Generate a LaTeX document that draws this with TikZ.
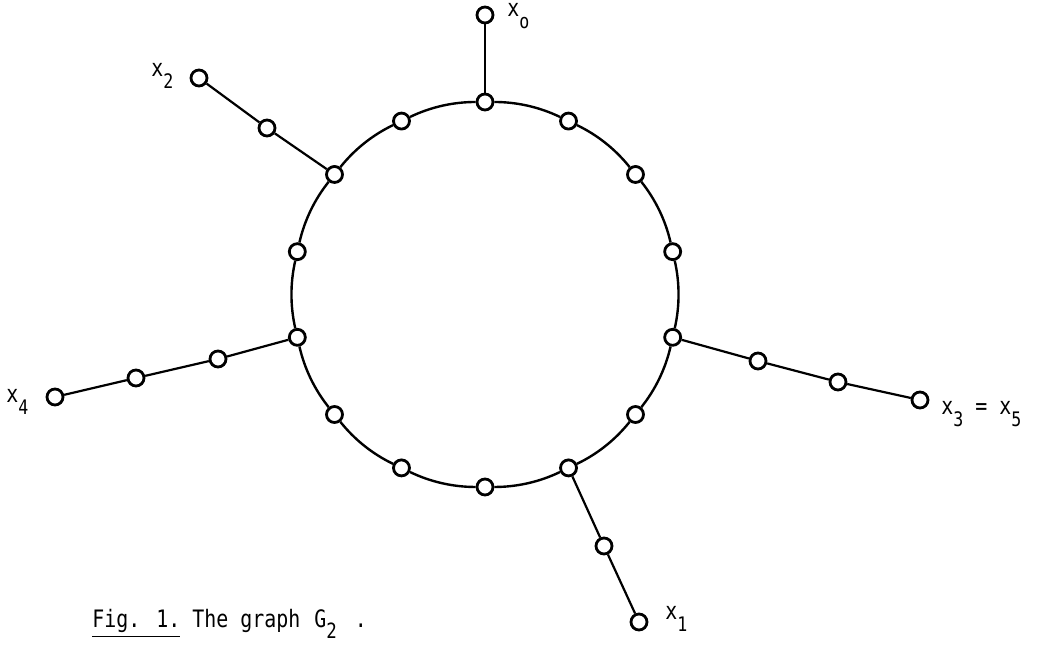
\documentclass[tikz,border=0pt]{standalone}
\usepackage{fontspec}
\setmainfont{DejaVu Sans Mono}[FakeStretch=0.83]
\newcommand\sbs[1]{\raisebox{-6pt}{\fontsize{10}{10}\selectfont #1}}
\newcommand\sbc[1]{\raisebox{-5.5pt}{\fontsize{10.5}{10.5}\selectfont #1}}
\tikzset{
  v/.style={circle, draw, fill=white, line width=1.4pt, inner sep=0pt, minimum size=8pt},
  e/.style={line width=1.1pt},
  ringedge/.style={line width=1.2pt},
  lab/.style={anchor=base west, inner sep=0pt, font=\fontsize{12}{12}\selectfont},
  captext/.style={anchor=base west, inner sep=0pt, font=\fontsize{12}{12}\selectfont}
}
\begin{document}
\begin{tikzpicture}[x=0.5pt,y=0.5pt]
\useasboundingbox (0,0) rectangle (1039,646);
\coordinate (C) at (485,351.5);
% ring vertices
\foreach \k in {0,...,13} {
  \path (C) ++({90-\k*360/14}:192.5) node[v] (r\k) {};
}
% ring edges (arcs of the circle)
\foreach \k [evaluate=\k as \n using {int(mod(\k+1,14))}] in {0,...,13} {
  \draw[ringedge] (r\k) to[bend left=12.857, looseness=0.863] (r\n);
}
% pendant vertices
\node[v] (x0) at (485,631) {};
\node[v] (a1) at (267,518) {};
\node[v] (x2) at (199,568) {};
\node[v] (b1) at (218,287) {};
\node[v] (b2) at (136,268) {};
\node[v] (x4) at (55,249) {};
\node[v] (c1) at (758,285) {};
\node[v] (c2) at (838,264) {};
\node[v] (x3) at (920,246) {};
\node[v] (d1) at (604,100) {};
\node[v] (x1) at (639,24) {};
% pendant edges
\draw[e] (r0) -- (x0);
\draw[e] (r12) -- (a1) -- (x2);
\draw[e] (r10) -- (b1) -- (b2) -- (x4);
\draw[e] (r4) -- (c1) -- (c2) -- (x3);
\draw[e] (r6) -- (d1) -- (x1);
% labels
\node[lab] (l0) at (507,629) {x\sbs{o}};
\node[lab] (l2) at (151,569) {x\sbs{2}};
\node[lab] (l4) at (6,243) {x\sbs{4}};
\node[lab] (l3) at (941,231) {x\sbs{3} = x\sbs{5}};
\node[lab] (l1) at (665,26) {x\sbs{1}};
\node[captext] (caption) at (92,18) {\underline{Fig. 1.} The graph\hspace{7pt}G\sbc{2}\hspace{9pt}.};
\end{tikzpicture}
\end{document}
